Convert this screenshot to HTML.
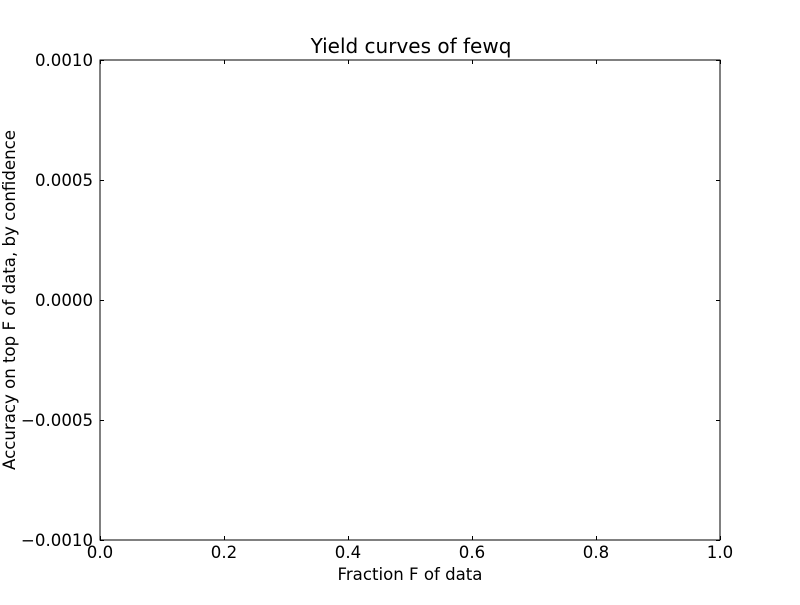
<!DOCTYPE html>
<html><head><meta charset="utf-8"><style>
body{margin:0;background:#fff;}
svg text{font-family:"DejaVu Sans","Liberation Sans",sans-serif;fill:#000;}
</style></head><body>
<svg id="chart" width="800" height="600" viewBox="0 0 800 600" xmlns="http://www.w3.org/2000/svg">
<rect width="800" height="600" fill="#fff"/>
<text x="411" y="53" font-size="20" text-anchor="middle">Yield curves of fewq</text>
<text x="410" y="580" font-size="16.6" text-anchor="middle">Fraction F of data</text>
<text transform="translate(15,300) rotate(-90)" font-size="16.6" text-anchor="middle">Accuracy on top F of data, by confidence</text>
<g id="ticks"></g>
<rect x="100" y="60" width="620" height="480" fill="none" stroke="#000" stroke-width="1"/>
</svg>
<script>
const xTicks = [0.0, 0.2, 0.4, 0.6, 0.8, 1.0];
const xTickLabels = ["0.0","0.2","0.4","0.6","0.8","1.0"];
const yTicks = [-0.001, -0.0005, 0.0, 0.0005, 0.001];
const yTickLabels = ["\u22120.0010","\u22120.0005","0.0000","0.0005","0.0010"];
const X0=100,X1=720,Y0=540,Y1=60;
const xMin=0,xMax=1,yMin=-0.001,yMax=0.001;
function sx(v){return X0+(v-xMin)/(xMax-xMin)*(X1-X0);}
function sy(v){return Y0-(v-yMin)/(yMax-yMin)*(Y0-Y1);}
const g=document.getElementById('ticks');
const NS='http://www.w3.org/2000/svg';
function line(x1,y1,x2,y2,name){
  const l=document.createElementNS(NS,'line');
  l.setAttribute('x1',x1);l.setAttribute('y1',y1);l.setAttribute('x2',x2);l.setAttribute('y2',y2);
  l.setAttribute('stroke','#000');l.setAttribute('stroke-width','1');
  
  
  g.appendChild(l);
}
function text(x,y,s,anchor,name){
  const t=document.createElementNS(NS,'text');
  t.setAttribute('x',x);t.setAttribute('y',y);t.setAttribute('font-size','16.6');
  t.setAttribute('text-anchor',anchor);t.textContent=s;
  
  
  g.appendChild(t);
}
xTicks.forEach((v,i)=>{
  const x=Math.round(sx(v))+0.5;
  line(x,Y0,x,Y0-4,'x-tick');
  line(x,Y1,x,Y1+4,'x-tick-top');
  text(sx(v),558,xTickLabels[i],'middle','x-tick-label');
});
yTicks.forEach((v,i)=>{
  const y=Math.round(sy(v))+0.5;
  line(X0,y,X0+4,y,'y-tick');
  line(X1,y,X1-4,y,'y-tick-right');
  text(93,sy(v)+6,yTickLabels[i],'end','y-tick-label');
});
</script>
</body></html>
